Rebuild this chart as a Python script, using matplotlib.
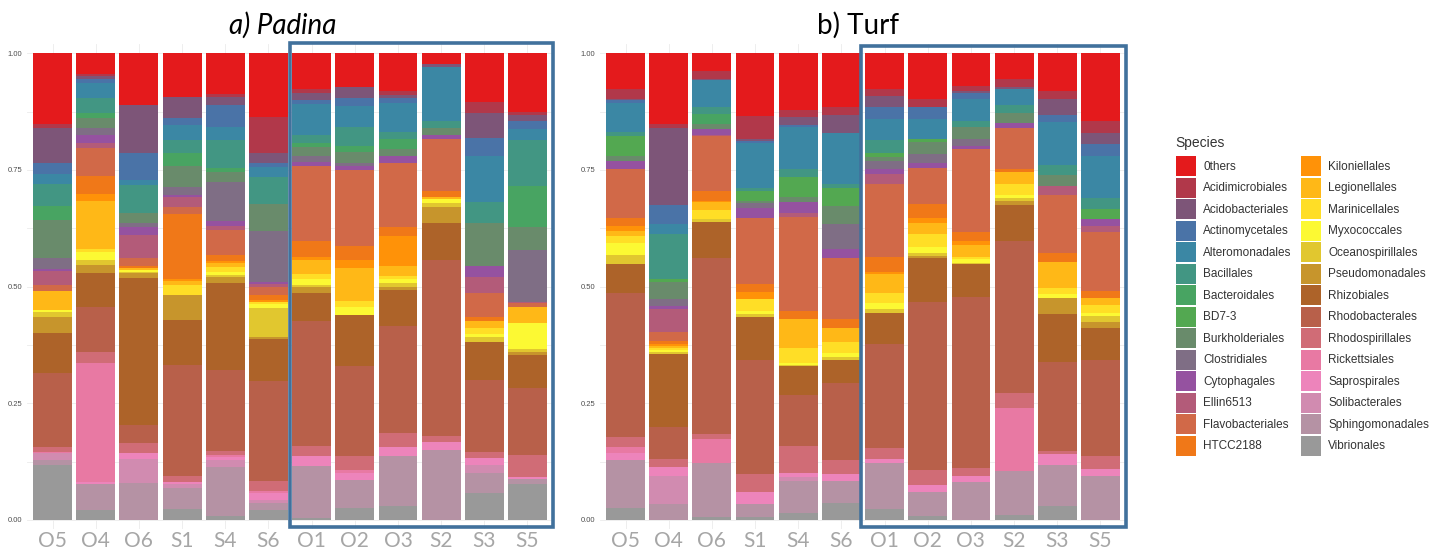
"""Stacked relative-abundance bars for Padina vs Turf samples."""

import numpy as np
import matplotlib
matplotlib.use('Agg')
import matplotlib.pyplot as plt
from matplotlib.colors import to_rgb
from matplotlib.patches import Patch, Rectangle

SPECIES = ['0thers', 'Acidimicrobiales', 'Acidobacteriales', 'Actinomycetales',
           'Alteromonadales', 'Bacillales', 'Bacteroidales', 'BD7-3',
           'Burkholderiales', 'Clostridiales', 'Cytophagales', 'Ellin6513',
           'Flavobacteriales', 'HTCC2188', 'Kiloniellales', 'Legionellales',
           'Marinicellales', 'Myxococcales', 'Oceanospirillales',
           'Pseudomonadales', 'Rhizobiales', 'Rhodobacterales',
           'Rhodospirillales', 'Rickettsiales', 'Saprospirales',
           'Solibacterales', 'Sphingomonadales', 'Vibrionales']

SAMPLES = ['O5', 'O4', 'O6', 'S1', 'S4', 'S6', 'O1', 'O2', 'O3', 'S2', 'S3', 'S5']

# relative abundance (%) per sample, in SPECIES order
padina_O5 = [15.1, 0.8, 7.7, 2.3, 2.1, 4.7, 3.0, 0, 8.2, 2.4, 0.3, 3.0, 1.3, 0, 0, 4.1, 0, 0.4, 1.2, 3.3, 8.7, 15.7, 1.1, 0.3, 0, 1.4, 1.2, 11.7]
padina_O4 = [4.4, 0.5, 0.7, 0.7, 3.3, 3.1, 1.2, 0, 2.2, 1.4, 1.8, 0.9, 6.0, 3.9, 1.6, 10.3, 0.5, 1.8, 1.1, 1.7, 7.3, 9.7, 2.3, 25.4, 0.5, 0, 5.6, 2.1]
padina_O6 = [11.1, 0, 10.3, 5.7, 1.1, 6.1, 0, 0, 2.0, 1.0, 1.6, 5.0, 1.8, 0.4, 0, 0.4, 0, 0.5, 0.2, 1.1, 31.4, 3.8, 2.3, 0, 1.3, 5.1, 7.9, 0]
padina_S1 = [9.3, 0, 4.6, 1.5, 3.2, 2.8, 2.7, 0, 4.5, 1.8, 0.3, 2.2, 1.5, 14.0, 0.5, 0.7, 2.2, 0, 0, 5.3, 9.7, 23.8, 1.2, 0, 0.5, 0.9, 4.5, 2.3]
padina_S4 = [8.8, 0.6, 1.7, 4.6, 2.9, 6.0, 0.8, 0, 2.1, 8.4, 1.1, 0.9, 5.3, 1.4, 0.4, 0.9, 0.9, 0.7, 0.4, 1.4, 18.5, 17.4, 0.9, 0.4, 0.6, 1.5, 10.5, 0.9]
padina_S6 = [13.6, 7.7, 2.3, 0.7, 2.3, 5.7, 0, 0, 5.8, 11.0, 0.3, 0.7, 1.8, 1.0, 0.3, 0, 0.5, 0.8, 6.4, 0.4, 8.9, 21.4, 2.2, 0.5, 1.4, 0.7, 1.5, 2.1]
padina_O1 = [7.7, 0.9, 1.3, 1.0, 6.5, 1.9, 0.8, 0, 2.0, 1.1, 0.9, 0, 16.1, 3.5, 0.6, 3.1, 1.0, 1.2, 0.5, 1.3, 6.0, 26.7, 2.3, 0, 2.0, 0, 11.2, 0.4]
padina_O2 = [7.3, 0, 2.2, 1.7, 4.5, 4.2, 1.3, 0, 2.2, 0.7, 0.8, 0, 16.4, 3.0, 1.8, 6.9, 1.4, 1.7, 0, 0, 10.9, 19.2, 3.1, 0.7, 1.4, 0, 6.1, 2.5]
padina_O3 = [8.1, 0.8, 0.7, 1.1, 6.2, 1.5, 2.2, 0, 1.4, 0, 1.6, 0, 13.7, 1.8, 6.5, 2.1, 0.6, 1.0, 0.7, 0.7, 7.7, 23.0, 2.9, 0, 2.1, 0, 10.6, 3.0]
padina_S2 = [2.3, 0, 0.7, 0, 11.6, 1.3, 0, 0, 1.6, 0, 0.9, 0, 11.2, 1.1, 0, 0.6, 0, 0.8, 0.9, 3.3, 8.0, 37.7, 1.2, 0, 1.8, 0, 15.0, 0]
padina_S3 = [10.5, 2.2, 5.4, 4.0, 9.7, 4.6, 0, 0, 9.2, 0, 2.3, 3.4, 5.3, 0.7, 0, 1.6, 1.2, 0.6, 1.1, 0, 8.2, 15.5, 1.3, 0, 1.4, 1.8, 4.3, 5.7]
padina_S5 = [12.5, 0.7, 1.4, 1.7, 2.3, 9.8, 8.9, 0, 4.8, 11.1, 0, 0.4, 0.8, 0, 0, 3.3, 0, 5.7, 0.6, 0.6, 7.2, 14.3, 4.8, 0, 0.4, 0, 1.0, 7.7]

turf_O5 = [7.7, 2.0, 0.4, 0.5, 6.3, 0.8, 0, 4.4, 1.0, 0, 1.6, 0, 10.5, 1.8, 1.1, 1.0, 1.5, 2.7, 1.8, 0, 6.3, 30.8, 2.1, 1.3, 1.6, 0, 10.3, 2.5]
turf_O4 = [15.2, 0.9, 16.3, 4.2, 2.2, 9.6, 0, 0.6, 3.7, 1.4, 0.8, 4.8, 2.0, 0.7, 0.4, 0.3, 0.4, 0.5, 0.5, 0, 15.6, 6.8, 1.7, 0, 1.9, 6.0, 3.5, 0]
turf_O6 = [3.8, 1.6, 0.4, 0, 5.8, 1.5, 2.1, 0, 1.1, 0, 1.1, 0.3, 11.8, 2.1, 0.3, 1.7, 2.0, 0, 0.5, 0, 7.7, 37.8, 1.1, 5.2, 0, 0, 11.4, 0.7]
turf_S1 = [13.4, 5.0, 0.4, 0.5, 9.5, 0.7, 0, 2.1, 0.4, 1.1, 2.3, 0, 14.1, 1.6, 1.5, 0, 2.6, 0.7, 0.7, 0, 9.2, 24.3, 3.9, 0, 2.5, 0, 2.8, 0.7]
turf_S4 = [12.2, 1.4, 1.8, 0.3, 9.0, 1.7, 0, 4.3, 1.2, 0, 2.4, 0.7, 20.2, 1.8, 0, 6.1, 3.2, 0.6, 0.2, 0, 6.2, 10.8, 5.8, 0, 1.0, 0.7, 7.0, 1.4]
turf_S6 = [11.4, 1.9, 3.7, 0, 10.9, 0.9, 0, 3.9, 3.9, 5.4, 1.9, 0, 13.1, 1.8, 0, 3.1, 2.4, 0.7, 0.7, 0, 5.0, 16.4, 3.1, 0, 1.4, 0, 4.8, 3.6]
turf_O1 = [7.7, 1.4, 2.5, 2.5, 4.5, 2.7, 0, 0.9, 0.9, 1.6, 1.2, 2.0, 15.7, 3.3, 0.5, 4.0, 2.2, 1.1, 0.9, 0, 6.6, 22.4, 2.4, 0, 0.9, 0, 9.8, 2.3]
turf_O2 = [9.7, 1.8, 0, 2.6, 4.2, 0, 0, 0.8, 2.5, 2.0, 1.0, 0, 7.6, 3.2, 1.0, 2.4, 2.8, 1.1, 0.7, 0.4, 9.5, 36.0, 3.2, 0, 1.6, 0, 5.0, 0.9]
turf_O3 = [6.9, 1.2, 0.3, 1.3, 4.8, 1.3, 0, 0, 2.6, 1.5, 0.5, 0, 18.0, 1.8, 0.9, 2.5, 0.5, 0.8, 0.3, 0, 7.0, 36.7, 1.6, 0, 1.3, 0, 8.2, 0]
turf_S2 = [5.6, 1.6, 0.5, 0, 3.4, 1.6, 0, 0, 2.3, 0, 0.9, 0, 8.8, 0.7, 0, 2.5, 2.5, 0.5, 0.7, 0.9, 7.7, 32.7, 3.2, 13.5, 0, 0, 9.3, 1.1]
turf_S3 = [8.1, 1.6, 3.6, 1.4, 9.3, 2.1, 0, 0, 2.3, 0, 0, 2.0, 12.3, 2.0, 0, 5.7, 1.2, 0.8, 0, 3.5, 10.2, 19.1, 0.7, 0, 2.4, 0, 8.8, 2.9]
turf_S5 = [14.4, 2.6, 2.5, 2.5, 9.1, 2.3, 0, 2.2, 0, 0, 1.4, 1.4, 12.5, 1.6, 0, 1.5, 1.6, 0.7, 1.3, 1.2, 7.0, 20.5, 2.7, 0, 1.6, 0, 9.4, 0]

PADINA = [padina_O5, padina_O4, padina_O6, padina_S1, padina_S4, padina_S6,
          padina_O1, padina_O2, padina_O3, padina_S2, padina_S3, padina_S5]
TURF = [turf_O5, turf_O4, turf_O6, turf_S1, turf_S4, turf_S6,
        turf_O1, turf_O2, turf_O3, turf_S2, turf_S3, turf_S5]

# brewer Set1 stretched over all species (ggplot colorRampPalette style)
SET1 = ['#E41A1C', '#377EB8', '#4DAF4A', '#984EA3', '#FF7F00',
        '#FFFF33', '#A65628', '#F781BF', '#999999']
base = np.array([to_rgb(c) for c in SET1])
t = np.linspace(0, len(SET1) - 1, len(SPECIES))
COLORS = np.column_stack([np.interp(t, np.arange(len(SET1)), base[:, k]) for k in range(3)])

BOX_BLUE = '#41719C'
TICK_GREY = '#A6A6A6'


def draw_panel(ax, rows):
    vals = np.array(rows, dtype=float)
    vals = vals / vals.sum(axis=1, keepdims=True)
    x = np.arange(len(SAMPLES))
    # first species sits on top -> stack from the last one upward
    bottom = np.zeros(len(SAMPLES))
    for i in range(len(SPECIES) - 1, -1, -1):
        ax.bar(x, vals[:, i], bottom=bottom, width=0.9, color=COLORS[i],
               linewidth=0, zorder=2)
        bottom += vals[:, i]

    ax.set_xlim(-0.6, len(SAMPLES) - 0.4)
    ax.set_ylim(-0.02, 1.02)
    ax.set_yticks([0, 0.25, 0.5, 0.75, 1.0])
    ax.set_yticklabels(['0.00', '0.25', '0.50', '0.75', '1.00'],
                       fontsize=5.5, color='#4D4D4D', family='Liberation Sans')
    ax.set_yticks([0.125, 0.375, 0.625, 0.875], minor=True)
    ax.set_xticks(x)
    ax.set_xticklabels(SAMPLES, fontsize=15, color=TICK_GREY, family='Lato')
    ax.tick_params(axis='both', which='both', length=0)
    ax.tick_params(axis='x', pad=1)
    ax.tick_params(axis='y', pad=3)
    ax.grid(True, which='both', color='#EBEBEB', linewidth=0.6, zorder=0)
    ax.set_axisbelow(True)
    for s in ax.spines.values():
        s.set_visible(False)


fig = plt.figure(figsize=(14.4, 5.47), dpi=100)
ax_a = fig.add_axes([0.0185, 0.0324, 0.3658, 0.8872])
ax_b = fig.add_axes([0.4164, 0.0324, 0.3658, 0.8872])
draw_panel(ax_a, PADINA)
draw_panel(ax_b, TURF)

# highlight boxes around the last six samples
ax_a.add_patch(Rectangle((5.5, -0.016), 6.1, 1.038, fill=False, edgecolor=BOX_BLUE,
                         linewidth=2.6, clip_on=False, zorder=5))
ax_b.add_patch(Rectangle((5.45, -0.016), 6.14, 1.032, fill=False, edgecolor=BOX_BLUE,
                         linewidth=2.6, clip_on=False, zorder=5))

fig.text(283 / 1440, 1 - 25 / 547, 'a) Padina', ha='center', va='center',
         fontsize=20, style='italic', family='Lato', color='black')
fig.text(858 / 1440, 1 - 25 / 547, 'b) Turf', ha='center', va='center',
         fontsize=20, family='Lato', color='black')

# legend: title placed on its own so the gap to the first key matches
fig.text(1175 / 1440, 1 - 143 / 547, 'Species', ha='left', va='center',
         fontsize=10, family='Liberation Sans', color='#333333')
handles = [Patch(facecolor=COLORS[i], edgecolor='none') for i in range(len(SPECIES))]
leg = fig.legend(handles, SPECIES, loc='upper left',
                 bbox_to_anchor=(1176 / 1440, 1 - 156 / 547), ncol=2,
                 frameon=False,
                 prop={'family': 'Liberation Sans', 'size': 8.5},
                 handlelength=1.7, handleheight=2.23, labelspacing=0.127,
                 handletextpad=0.6, columnspacing=0.8, borderpad=0,
                 borderaxespad=0)
for txt in leg.get_texts():
    txt.set_color('#333333')

fig.savefig('out.png', dpi=100)
